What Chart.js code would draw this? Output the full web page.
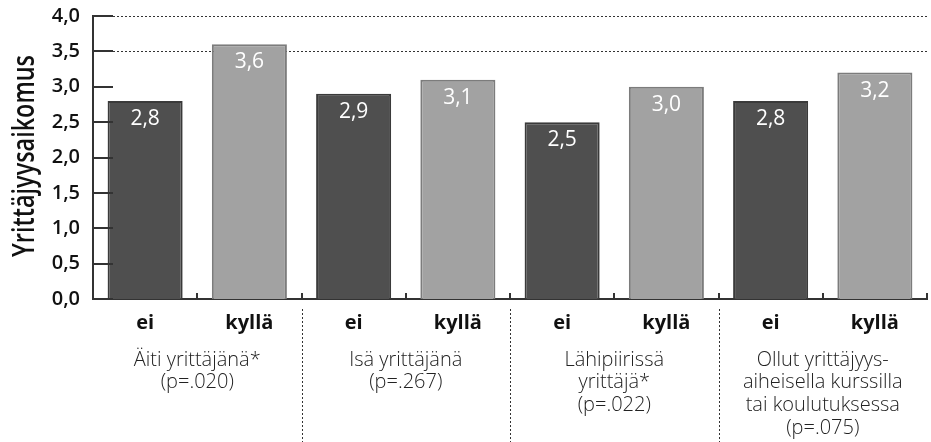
<!DOCTYPE html>
<html>
<head>
<meta charset="utf-8">
<script src="https://cdn.jsdelivr.net/npm/chart.js@4.4.0/dist/chart.umd.min.js"></script>
<style>
  html, body { margin: 0; padding: 0; background: #fff; }
  #wrap { width: 931px; height: 442px; }
</style>
</head>
<body>
<div id="wrap"><canvas id="chart"></canvas></div>
<script>
// data
const categories = ['ei', 'kyllä', 'ei', 'kyllä', 'ei', 'kyllä', 'ei', 'kyllä'];
const values = [2.8, 3.6, 2.9, 3.1, 2.5, 3.0, 2.8, 3.2];
const groupLabels = [
    ['Äiti yrittäjänä*', '(p=.020)'],
    ['Isä yrittäjänä', '(p=.267)'],
    ['Lähipiirissä', 'yrittäjä*', '(p=.022)'],
    ['Ollut yrittäjyys-', 'aiheisella kurssilla', 'tai koulutuksessa', '(p=.075)']
];
const yMin = 0, yMax = 4, yStep = 0.5;
const dottedLevels = [3.5, 4.0];
const axisTitle = 'Yrittäjyysaikomus';

const barColors = ['#4f4f4f', '#a2a2a2'];
const barBorders = ['#3a3a3a', '#7c7c7c'];
const FONT = '"Open Sans", sans-serif';

function fmt(v) {
    return v.toFixed(1).replace('.', ',');
}

// extra drawing: inner ticks, dotted lines, separators, labels
const decorPlugin = {
    id: 'decor',
    beforeDatasetsDraw(chart) {
        const ctx = chart.ctx;
        const area = chart.chartArea;
        const y = chart.scales.y;
        ctx.save();
        ctx.strokeStyle = '#333';
        ctx.lineWidth = 1;
        ctx.setLineDash([2, 2]);
        dottedLevels.forEach(v => {
            const py = Math.round(y.getPixelForValue(v)) + 0.5;
            ctx.beginPath();
            ctx.moveTo(area.left + 20, py);
            ctx.lineTo(area.right, py);
            ctx.stroke();
        });
        ctx.restore();
    },
    afterDraw(chart) {
        const ctx = chart.ctx;
        const area = chart.chartArea;
        const x = chart.scales.x;
        const y = chart.scales.y;
        ctx.save();

        // y ticks pointing into the plot
        ctx.strokeStyle = '#333';
        ctx.lineWidth = 2;
        for (let v = yMin; v <= yMax + 1e-9; v += yStep) {
            const py = Math.round(y.getPixelForValue(v));
            ctx.beginPath();
            ctx.moveTo(area.left, py);
            ctx.lineTo(area.left + 20, py);
            ctx.stroke();
        }

        // small upward ticks at category boundaries
        const bounds = [];
        for (let i = 1; i <= categories.length; i++) {
            const bx = i < categories.length
                ? (x.getPixelForValue(i - 1) + x.getPixelForValue(i)) / 2
                : area.right;
            bounds.push(bx);
            ctx.beginPath();
            ctx.moveTo(Math.round(bx), area.bottom);
            ctx.lineTo(Math.round(bx), area.bottom - 6);
            ctx.stroke();
        }

        // dotted group separators
        ctx.lineWidth = 1;
        ctx.setLineDash([2, 2]);
        for (let g = 1; g < groupLabels.length; g++) {
            const sx = Math.round(bounds[g * 2 - 1]) + 0.5;
            ctx.beginPath();
            ctx.moveTo(sx, area.bottom + 10);
            ctx.lineTo(sx, chart.height);
            ctx.stroke();
        }
        ctx.setLineDash([]);

        // group labels
        ctx.fillStyle = '#222';
        ctx.font = '300 20px ' + FONT;
        ctx.textAlign = 'center';
        ctx.textBaseline = 'middle';
        groupLabels.forEach((lines, g) => {
            const cx = (x.getPixelForValue(g * 2) + x.getPixelForValue(g * 2 + 1)) / 2;
            lines.forEach((t, k) => {
                ctx.fillText(t, cx, area.bottom + 61 + k * 22.6);
            });
        });

        // value labels inside bars
        ctx.fillStyle = '#fff';
        ctx.font = '21px ' + FONT;
        const meta = chart.getDatasetMeta(0);
        meta.data.forEach((bar, i) => {
            ctx.fillText(fmt(values[i]), bar.x, bar.y + 18);
        });

        // rotated axis title, narrow and tall like the original
        ctx.fillStyle = '#111';
        ctx.font = '600 30px ' + FONT;
        const w = ctx.measureText(axisTitle).width;
        ctx.translate(24, 156);
        ctx.rotate(-Math.PI / 2);
        ctx.scale(202 / w, 1);
        ctx.fillText(axisTitle, 0, 1);

        ctx.restore();
    }
};

new Chart(document.getElementById('chart'), {
    type: 'bar',
    data: {
        labels: categories,
        datasets: [{
            data: values,
            backgroundColor: values.map((v, i) => barColors[i % 2]),
            borderColor: values.map((v, i) => barBorders[i % 2]),
            borderWidth: 2,
            borderSkipped: 'bottom',
            categoryPercentage: 1,
            barPercentage: 0.72
        }]
    },
    options: {
        responsive: true,
        maintainAspectRatio: false,
        animation: false,
        layout: { padding: { top: 0, right: 4, left: 0, bottom: 0 } },
        plugins: {
            legend: { display: false },
            tooltip: { enabled: false }
        },
        scales: {
            x: {
                grid: { display: false },
                border: { display: true, color: '#333', width: 2 },
                ticks: {
                    color: '#111',
                    font: { family: FONT, size: 20, weight: 'bold' },
                    padding: 4,
                    maxRotation: 0
                },
                afterFit(scale) { scale.height = 143; }
            },
            y: {
                min: yMin,
                max: yMax,
                grid: { display: false, drawTicks: false },
                border: { display: true, color: '#333', width: 2 },
                ticks: {
                    stepSize: yStep,
                    color: '#111',
                    padding: 13,
                    font: { family: FONT, size: 20, weight: '600' },
                    callback: v => fmt(v)
                },
                afterFit(scale) {
                    scale.width = 93;
                    scale.paddingTop = 16;
                    scale.paddingBottom = 0;
                }
            }
        }
    },
    plugins: [decorPlugin]
});
</script>
</body>
</html>
